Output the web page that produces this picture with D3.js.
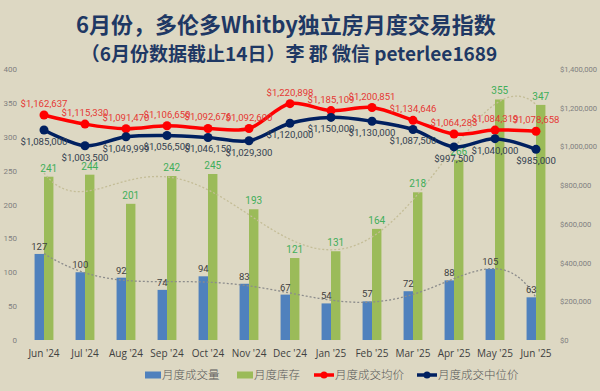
<!DOCTYPE html>
<html>
<head>
<meta charset="utf-8">
<script src="https://cdn.jsdelivr.net/npm/d3@7"></script>
<style>
  body { margin: 0; background: #ddd8c3; }
  svg { display: block; font-family: Roboto, 'Open Sans', sans-serif; }
</style>
</head>
<body>
<script>
// data
const months = ["Jun '24", "Jul '24", "Aug '24", "Sep '24", "Oct '24", "Nov '24", "Dec '24",
  "Jan '25", "Feb '25", "Mar '25", "Apr '25", "May '25", "Jun '25"]
const sales = [127, 100, 92, 74, 94, 83, 67, 54, 57, 72, 88, 105, 63]
const inventory = [241, 244, 201, 242, 245, 193, 121, 131, 164, 218, 266, 355, 347]
const avgPrice = [1162637, 1115330, 1091470, 1106650, 1092676, 1092600, 1220898,
  1185109, 1200851, 1134646, 1064283, 1084319, 1078658]
const medianPrice = [1085000, 1003500, 1049999, 1056500, 1046150, 1029300, 1120000,
  1150000, 1130000, 1087500, 997500, 1040000, 985000]
const leftTicks = [0, 50, 100, 150, 200, 250, 300, 350, 400]
const rightTicks = [0, 200000, 400000, 600000, 800000, 1000000, 1200000, 1400000]

const W = 600, H = 391

const svg = d3.select('body').append('svg')
  .attr('width', W).attr('height', H)

svg.append('rect').attr('width', W).attr('height', H).attr('fill', '#ddd8c3')

// titles
svg.append('text')
  .attr('x', 286).attr('y', 33)
  .attr('text-anchor', 'middle')
  .attr('font-family', "'Noto Sans CJK SC', sans-serif")
  .attr('font-weight', 'bold')
  .attr('font-size', 22)
  .attr('fill', '#1f3864')
  .text('6月份，多伦多Whitby独立房月度交易指数')

svg.append('text')
  .attr('x', 289).attr('y', 61)
  .attr('text-anchor', 'middle')
  .attr('font-family', "'Noto Sans CJK SC', sans-serif")
  .attr('font-weight', 'bold')
  .attr('font-size', 19)
  .attr('fill', '#1f3864')
  .text('（6月份数据截止14日）李 郡 微信 peterlee1689')

// scales
const x = d3.scaleBand().domain(months).range([23.5, 556.5])
  .paddingInner(0.54).paddingOuter(0.27)
const sub = d3.scaleBand().domain(['s', 'i']).range([0, x.bandwidth()])
const yL = d3.scaleLinear().domain([0, 400]).range([340, 69])
const yR = d3.scaleLinear().domain([0, 1400000]).range([340, 69])
const cx = m => x(m) + x.bandwidth() / 2

// axes (labels only)
const axL = svg.append('g').attr('transform', 'translate(19,0)')
  .call(d3.axisLeft(yL).tickValues(leftTicks).tickSize(0).tickPadding(2))
axL.select('.domain').remove()
axL.selectAll('text').attr('fill', '#7f7f7f').attr('font-size', 8)
  .attr('font-family', 'Roboto, sans-serif')

const axR = svg.append('g').attr('transform', 'translate(558,0)')
  .call(d3.axisRight(yR).tickValues(rightTicks).tickSize(0).tickPadding(2)
    .tickFormat(d => '$' + d3.format(',')(d)))
axR.select('.domain').remove()
axR.selectAll('text').attr('fill', '#7f7f7f').attr('font-size', 7.6)
  .attr('font-family', 'Roboto, sans-serif')

const axB = svg.append('g').attr('transform', 'translate(0,346)')
  .call(d3.axisBottom(x).tickSize(0).tickPadding(4))
axB.select('.domain').remove()
axB.selectAll('text').attr('fill', '#404040').attr('font-size', 10)
  .attr('font-family', "'Open Sans', sans-serif")

// bars
svg.append('g').selectAll('rect')
  .data(sales).enter().append('rect')
  .attr('x', (d, i) => x(months[i]) + sub('s'))
  .attr('y', d => yL(d))
  .attr('width', sub.bandwidth())
  .attr('height', d => yL(0) - yL(d))
  .attr('fill', '#4f81bd')

svg.append('g').selectAll('rect')
  .data(inventory).enter().append('rect')
  .attr('x', (d, i) => x(months[i]) + sub('i'))
  .attr('y', d => yL(d))
  .attr('width', sub.bandwidth())
  .attr('height', d => yL(0) - yL(d))
  .attr('fill', '#9bbb59')

// polynomial trend lines (least squares, order 6)
const polyFit = (ys, order) => {
  const n = ys.length
  const ts = ys.map((d, i) => (i - (n - 1) / 2) / ((n - 1) / 2))
  const m = order + 1
  const A = d3.range(m).map(r => d3.range(m + 1).map(c =>
    c < m ? d3.sum(ts, t => Math.pow(t, r + c)) : d3.sum(ts, (t, i) => ys[i] * Math.pow(t, r))))
  for (let c = 0; c < m; c++) {
    let p = c
    for (let r = c + 1; r < m; r++) if (Math.abs(A[r][c]) > Math.abs(A[p][c])) p = r
    const tmp = A[c]; A[c] = A[p]; A[p] = tmp
    for (let r = 0; r < m; r++) {
      if (r === c) continue
      const f = A[r][c] / A[c][c]
      for (let k = c; k <= m; k++) A[r][k] -= f * A[c][k]
    }
  }
  const coef = A.map((row, i) => row[m] / row[i])
  return d3.range(0, n - 1 + 1e-9, 0.1).map(i => {
    const t = (i - (n - 1) / 2) / ((n - 1) / 2)
    return [i, d3.sum(coef, (a, k) => a * Math.pow(t, k))]
  })
}

const xi = d3.scaleLinear().domain([0, months.length - 1]).range([cx(months[0]), cx(months[months.length - 1])])
const trend = d3.line().x(d => xi(d[0])).y(d => yL(d[1]))

svg.append('path').datum(polyFit(inventory, 6))
  .attr('d', trend).attr('fill', 'none')
  .attr('stroke', '#c4bd97').attr('stroke-width', 1.3).attr('stroke-dasharray', '2,2')

svg.append('path').datum(polyFit(sales, 6))
  .attr('d', trend).attr('fill', 'none')
  .attr('stroke', '#8c8c8c').attr('stroke-width', 1.3).attr('stroke-dasharray', '2,2')

// bar labels
svg.append('g').selectAll('text')
  .data(sales).enter().append('text')
  .attr('x', (d, i) => x(months[i]) + sub('s') + sub.bandwidth() / 2)
  .attr('y', d => yL(d) - 4)
  .attr('text-anchor', 'middle').attr('font-size', 9.5).attr('fill', '#404040')
  .text(d => d)

svg.append('g').selectAll('text')
  .data(inventory).enter().append('text')
  .attr('x', (d, i) => x(months[i]) + sub('i') + sub.bandwidth() / 2)
  .attr('y', d => yL(d) - 5)
  .attr('text-anchor', 'middle').attr('font-size', 10).attr('fill', '#3fae5a')
  .text(d => d)

// price lines
const priceLine = d3.line()
  .x((d, i) => cx(months[i])).y(d => yR(d))
  .curve(d3.curveCatmullRom.alpha(0.5))

const series = [
  { vals: avgPrice, color: '#ff0000', label: '#e53935', dy: -8 },
  { vals: medianPrice, color: '#002060', label: '#333f50', dy: 15 }
]

series.forEach(s => {
  svg.append('path').datum(s.vals)
    .attr('d', priceLine).attr('fill', 'none')
    .attr('stroke', s.color).attr('stroke-width', 3.5)
  svg.append('g').selectAll('circle')
    .data(s.vals).enter().append('circle')
    .attr('cx', (d, i) => cx(months[i])).attr('cy', d => yR(d))
    .attr('r', 4.5).attr('fill', s.color)
  svg.append('g').selectAll('text')
    .data(s.vals).enter().append('text')
    .attr('x', (d, i) => cx(months[i])).attr('y', d => yR(d) + s.dy)
    .attr('text-anchor', 'middle').attr('font-size', 9.6).attr('fill', s.label)
    .text(d => '$' + d3.format(',')(d))
})

// legend
const legend = [
  { name: '月度成交量', color: '#4f81bd', type: 'rect', x: 145 },
  { name: '月度库存', color: '#9bbb59', type: 'rect', x: 237 },
  { name: '月度成交均价', color: '#ff0000', type: 'line', x: 314 },
  { name: '月度成交中位价', color: '#002060', type: 'line', x: 417 }
]
const lg = svg.append('g').attr('transform', 'translate(0,375)')
legend.forEach(l => {
  if (l.type === 'rect') {
    lg.append('rect').attr('x', l.x).attr('y', -3.5).attr('width', 16).attr('height', 7).attr('fill', l.color)
  } else {
    lg.append('line').attr('x1', l.x).attr('x2', l.x + 20).attr('y1', 0).attr('y2', 0)
      .attr('stroke', l.color).attr('stroke-width', 3.5)
    lg.append('circle').attr('cx', l.x + 10).attr('cy', 0).attr('r', 3.5).attr('fill', l.color)
  }
  lg.append('text').attr('x', l.x + (l.type === 'rect' ? 17 : 21)).attr('y', 4)
    .attr('font-family', "'Noto Sans CJK SC', sans-serif").attr('font-weight', 300)
    .attr('font-size', 11.5).attr('fill', '#595959')
    .text(l.name)
})
</script>
</body>
</html>
